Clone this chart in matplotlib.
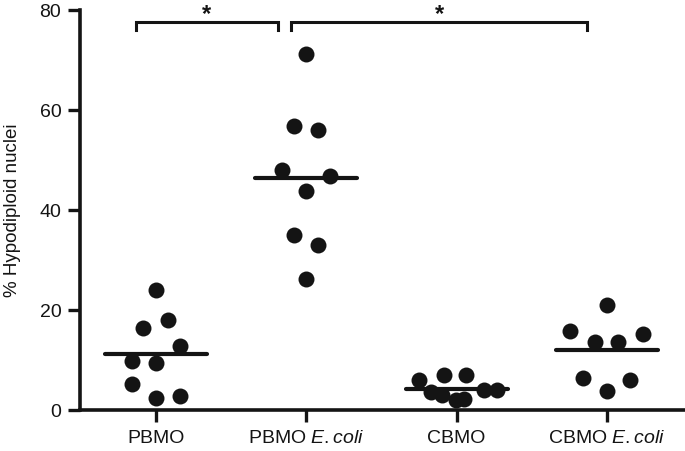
import matplotlib
matplotlib.use("Agg")
import matplotlib.pyplot as plt
import numpy as np

plt.rcParams['font.family'] = ['Liberation Sans', 'DejaVu Sans']
plt.rcParams['mathtext.fontset'] = 'custom'
plt.rcParams['mathtext.rm'] = 'Liberation Sans'
plt.rcParams['mathtext.it'] = 'Liberation Sans:italic'

# ---- data ----
categories = ["PBMO", "PBMO $\\it{E.coli}$", "CBMO", "CBMO $\\it{E.coli}$"]
pbmo = [24.0, 16.5, 18.0, 12.8, 9.8, 9.5, 5.2, 2.5, 2.9]
pbmo_ecoli = [71.3, 56.9, 56.1, 48.1, 46.9, 43.9, 35.0, 33.0, 26.3]
cbmo = [6.0, 7.0, 7.0, 3.7, 3.0, 2.0, 2.3, 4.0, 4.0]
cbmo_ecoli = [21.0, 15.9, 13.7, 13.7, 15.2, 6.5, 6.0, 3.9]
means = [11.2, 46.5, 4.2, 12.0]
yticks = [0, 20, 40, 60, 80]
ylabel = "% Hypodiploid nuclei"
sig_labels = ["*", "*"]

# layout: horizontal jitter of dots (fraction of category spacing)
offsets = [
    [0.0, -0.085, 0.08, 0.16, -0.16, 0.0, -0.16, 0.0, 0.16],
    [0.0, -0.08, 0.08, -0.16, 0.16, 0.0, -0.08, 0.08, 0.0],
    [-0.25, -0.085, 0.06, -0.17, -0.095, -0.005, 0.05, 0.18, 0.27],
    [0.0, -0.245, -0.08, 0.075, 0.24, -0.16, 0.155, 0.0],
]
groups = [pbmo, pbmo_ecoli, cbmo, cbmo_ecoli]
ink = '#141414'

fig = plt.figure(figsize=(6.85, 4.51), dpi=100)
ax = fig.add_axes([0.1168, 0.0909, 0.8832, 0.8869])

for i, (vals, offs) in enumerate(zip(groups, offsets)):
    xs = i + np.array(offs)
    ax.plot(xs, vals, 'o', color=ink, markersize=11.5, markeredgewidth=0,
            clip_on=False, zorder=3)
    ax.plot([i - 0.34, i + 0.34], [means[i], means[i]], color=ink,
            lw=3, solid_capstyle='round', zorder=4)

ax.set_xlim(-0.507, 3.52)
ax.set_ylim(0, 80)
ax.set_xticks(range(len(categories)))
ax.set_xticklabels(categories)
ax.set_yticks(yticks)
for s in ['top', 'right']:
    ax.spines[s].set_visible(False)
for s in ['left', 'bottom']:
    ax.spines[s].set_linewidth(2.6)
    ax.spines[s].set_color(ink)
ax.tick_params(axis='both', direction='out', length=8.5, width=2.4,
               color=ink, labelsize=14, labelcolor=ink)
ax.tick_params(axis='y', pad=5)
ax.tick_params(axis='x', pad=6)
fig.text(13 / 685, 1 - 210 / 451, ylabel, rotation=90, ha='center',
         va='center', fontsize=13.5, color=ink)

# significance brackets
brackets = [(-0.133, 0.809), (0.898, 2.871)]
for (x0, x1), lab in zip(brackets, sig_labels):
    ax.plot([x0, x0, x1, x1], [76.0, 77.6, 77.6, 76.0], color=ink,
            lw=2.2, clip_on=False, solid_joinstyle='miter')
    ax.text((x0 + x1) / 2, 79.0, lab, ha='center', va='center', fontsize=17,
            fontweight='bold', color=ink, clip_on=False)

fig.savefig("out.png", dpi=100)
